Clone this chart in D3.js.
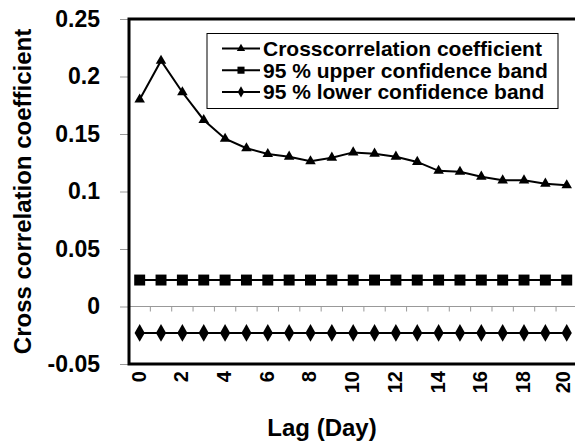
<!DOCTYPE html>
<html>
<head>
<meta charset="utf-8">
<script src="https://cdn.jsdelivr.net/npm/d3@7"></script>
<style>
  body { margin: 0; background: #fff; }
  svg { display: block; font-family: "Liberation Sans", Arial, sans-serif; font-weight: bold; }
</style>
</head>
<body>
<div id="chart"></div>
<script>
// lag in days
const lags = d3.range(0, 21);
const crossCorr = [0.180, 0.2137, 0.1863, 0.1622, 0.1459, 0.1376, 0.1326, 0.1303, 0.1263, 0.1294,
  0.134, 0.1329, 0.1303, 0.1257, 0.118, 0.1172, 0.1129, 0.1097, 0.1097, 0.1068, 0.1054];
const upperBand = lags.map(() => 0.023);
const lowerBand = lags.map(() => -0.023);
const yTicks = [-0.05, 0, 0.05, 0.1, 0.15, 0.2, 0.25];
const xTickLabels = [0, 2, 4, 6, 8, 10, 12, 14, 16, 18, 20];
const legendLabels = ["Crosscorrelation coefficient", "95 % upper confidence band", "95 % lower confidence band"];

const width = 575, height = 446;
const margin = { top: 19, left: 129, bottom: 82 };
const plotRight = 577.4;

const svg = d3.select("#chart").append("svg")
  .attr("width", width)
  .attr("height", height);

const x = d3.scaleBand().domain(lags).range([margin.left, plotRight]).padding(0);
const y = d3.scaleLinear().domain([-0.05, 0.25]).range([height - margin.bottom, margin.top]);
const cx = (d) => x(d) + x.bandwidth() / 2;

// zero line with category ticks
svg.append("line")
  .attr("x1", margin.left).attr("x2", plotRight)
  .attr("y1", y(0)).attr("y2", y(0))
  .attr("stroke", "#999").attr("stroke-width", 1);
svg.append("g").selectAll("line")
  .data(lags.slice(1))
  .join("line")
  .attr("x1", (d) => x(d)).attr("x2", (d) => x(d))
  .attr("y1", y(0)).attr("y2", y(0) + 5)
  .attr("stroke", "#999").attr("stroke-width", 1);

// y axis
const yAxis = svg.append("g")
  .attr("transform", `translate(${margin.left},0)`)
  .call(d3.axisLeft(y).tickValues(yTicks).tickSize(9).tickPadding(20)
    .tickFormat((d) => String(+d.toFixed(2))));
yAxis.select(".domain").remove();
yAxis.selectAll(".tick line").attr("stroke", "#999");
yAxis.selectAll(".tick text")
  .attr("font-size", 23).attr("font-family", "Liberation Sans, Arial, sans-serif")
  .attr("font-weight", "bold").attr("fill", "#000");

// frame
svg.append("rect")
  .attr("x", margin.left).attr("y", margin.top)
  .attr("width", plotRight + 10 - margin.left)
  .attr("height", y(-0.05) - margin.top)
  .attr("fill", "none").attr("stroke", "#000").attr("stroke-width", 3);

// x tick labels (rotated, last one kept inside the window)
const xLabelTop = 371;
svg.append("g").selectAll("text")
  .data(xTickLabels)
  .join("text")
  .attr("transform", (d) => `translate(${Math.min(cx(d), 564)},${xLabelTop}) rotate(-90)`)
  .attr("text-anchor", "end")
  .attr("dy", "0.3em")
  .attr("font-size", 20)
  .text((d) => d);

// series
const line = d3.line().x((d, i) => cx(lags[i])).y((d) => y(d));
const series = [
  { values: crossCorr, symbol: d3.symbolTriangle, size: 48 },
  { values: upperBand, symbol: d3.symbolSquare, size: 120 },
  { values: lowerBand, symbol: d3.symbolDiamond, size: 90 }
];

series.forEach((s) => {
  svg.append("path")
    .attr("d", line(s.values))
    .attr("fill", "none").attr("stroke", "#000").attr("stroke-width", 2);
  svg.append("g").selectAll("path")
    .data(s.values)
    .join("path")
    .attr("transform", (d, i) => `translate(${cx(lags[i])},${y(d)})`)
    .attr("d", d3.symbol().type(s.symbol).size(s.size))
    .attr("fill", "#000");
});

// legend
const legend = svg.append("g").attr("transform", "translate(207,33.5)");
legend.append("rect")
  .attr("width", 351).attr("height", 75)
  .attr("fill", "#fff").attr("stroke", "#000").attr("stroke-width", 1);
const legendSizes = [30, 50, 36];
legendLabels.forEach((label, i) => {
  const row = legend.append("g").attr("transform", `translate(0,${15 + i * 21.7})`);
  row.append("line").attr("x1", 15).attr("x2", 53)
    .attr("stroke", "#000").attr("stroke-width", 2);
  row.append("path").attr("transform", "translate(34,0)")
    .attr("d", d3.symbol().type(series[i].symbol).size(legendSizes[i]))
    .attr("fill", "#000");
  row.append("text").attr("x", 56).attr("dy", "0.36em")
    .attr("font-size", 21).text(label);
});

// axis titles
svg.append("text")
  .attr("transform", `translate(31,${(margin.top + y(-0.05)) / 2}) rotate(-90)`)
  .attr("text-anchor", "middle")
  .attr("font-size", 24)
  .text("Cross correlation coefficient");
svg.append("text")
  .attr("x", 322).attr("y", 436)
  .attr("text-anchor", "middle")
  .attr("font-size", 24)
  .text("Lag (Day)");
</script>
</body>
</html>
